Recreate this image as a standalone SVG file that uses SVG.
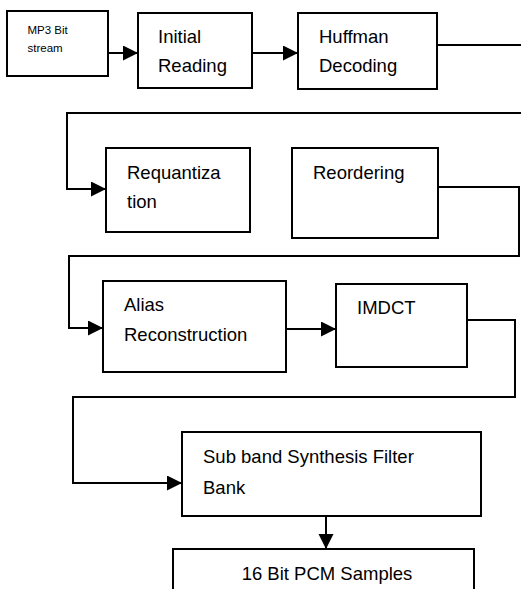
<svg xmlns="http://www.w3.org/2000/svg" width="521" height="589" viewBox="0 0 521 589">
<style>
.box{fill:#fff;stroke:#000;stroke-width:2}
.t{font-family:"Liberation Sans",Arial,sans-serif;font-size:18.5px;fill:#000}
.s{font-family:"Liberation Sans",Arial,sans-serif;font-size:11.5px;fill:#000}
.c{fill:none;stroke:#000;stroke-width:2}
</style>
<defs>
<marker id="ah" markerUnits="userSpaceOnUse" markerWidth="16" markerHeight="16" refX="15" refY="7.5" orient="auto">
<path d="M0,0 L15,7.5 L0,15 z" fill="#000"/>
</marker>
</defs>
<rect width="521" height="589" fill="#fff"/>
<g id="connectors">
<path class="c" d="M108,53 H138" marker-end="url(#ah)"/>
<path class="c" d="M252,53 H298" marker-end="url(#ah)"/>
<path class="c" d="M437,45 H524 V113 H67 V189 H106" marker-end="url(#ah)"/>
<path class="c" d="M438,187 H519 V256 H69 V328 H103" marker-end="url(#ah)"/>
<path class="c" d="M286,329 H336" marker-end="url(#ah)"/>
<path class="c" d="M467,320 H515 V397 H73 V483 H182" marker-end="url(#ah)"/>
<path class="c" d="M326,516 V549" marker-end="url(#ah)"/>
</g>
<g id="mp3">
<rect class="box" x="7" y="11" width="101" height="65"/>
<text class="s" x="27.5" y="34">MP3 Bit</text>
<text class="s" x="27.5" y="51.5">stream</text>
</g>
<g id="initial">
<rect class="box" x="138" y="13" width="114" height="75"/>
<text class="t" x="158" y="43">Initial</text>
<text class="t" x="158" y="72">Reading</text>
</g>
<g id="huffman">
<rect class="box" x="298" y="13" width="139" height="76"/>
<text class="t" x="319" y="43">Huffman</text>
<text class="t" x="319" y="72">Decoding</text>
</g>
<g id="requant">
<rect class="box" x="106" y="148" width="144" height="84"/>
<text class="t" x="127" y="179">Requantiza</text>
<text class="t" x="127" y="208">tion</text>
</g>
<g id="reorder">
<rect class="box" x="292" y="148" width="146" height="90"/>
<text class="t" x="313" y="179">Reordering</text>
</g>
<g id="alias">
<rect class="box" x="103" y="281" width="183" height="91"/>
<text class="t" x="124" y="311">Alias</text>
<text class="t" x="124" y="341">Reconstruction</text>
</g>
<g id="imdct">
<rect class="box" x="336" y="284" width="131" height="83"/>
<text class="t" x="357" y="314">IMDCT</text>
</g>
<g id="subband">
<rect class="box" x="182" y="432" width="299" height="84"/>
<text class="t" x="203" y="463">Sub band Synthesis Filter</text>
<text class="t" x="203" y="494">Bank</text>
</g>
<g id="pcm">
<rect class="box" x="173" y="549" width="301" height="55"/>
<text class="t" x="327" y="580" text-anchor="middle">16 Bit PCM Samples</text>
</g>
</svg>
